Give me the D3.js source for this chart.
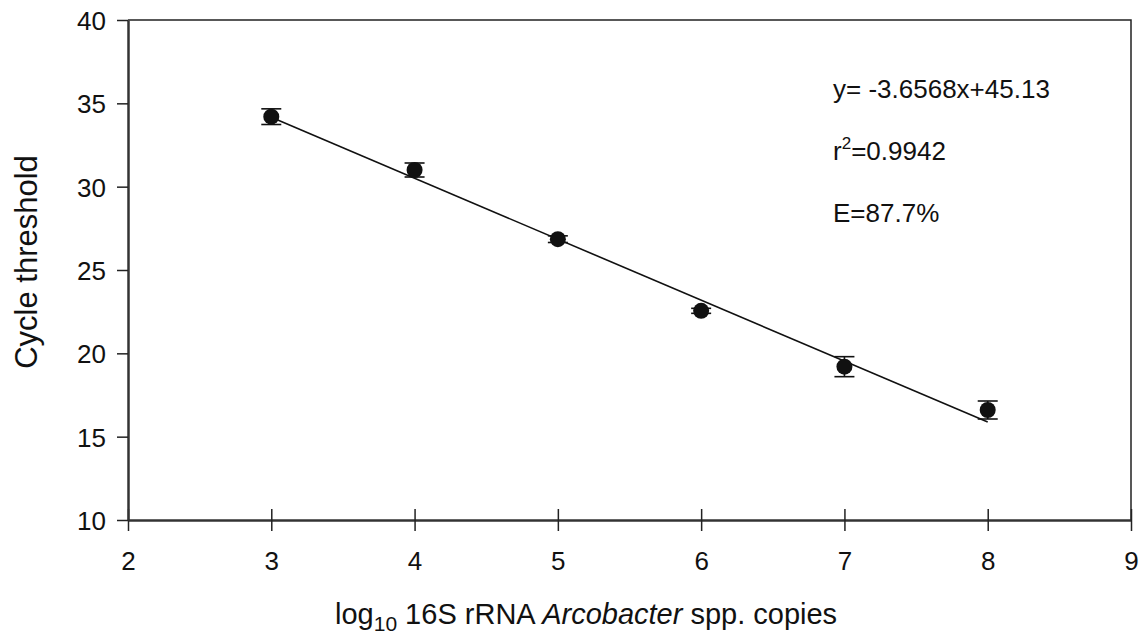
<!DOCTYPE html>
<html lang="en">
<head>
    <meta charset="UTF-8">
    <title>Arcobacter standard curve</title>
    <style>
        body {
            margin: 0;
            padding: 0;
            background-color: #fff;
        }
        svg text {
            font-family: 'Liberation Sans', Arial, sans-serif;
            fill: #111;
        }
    </style>
    <script src="https://d3js.org/d3.v7.min.js"></script>
</head>
<body>
    <div id="chart"></div>

    <script>
        // values
        var logCopies = [3, 4, 5, 6, 7, 8];
        var cycleThreshold = [34.2, 31.0, 26.85, 22.55, 19.2, 16.6];
        var ctError = [0.47, 0.42, 0.2, 0.15, 0.6, 0.54];

        // regression line end points
        var fitX = [3, 8];
        var fitY = [34.16, 15.88];

        var xTicks = [2, 3, 4, 5, 6, 7, 8, 9];
        var yTicks = [10, 15, 20, 25, 30, 35, 40];
        var annotations = ['y= -3.6568x+45.13', 'r2=0.9942', 'E=87.7%'];

        var width = 1141, height = 637;
        var margin = { top: 20, right: 10, bottom: 117, left: 128 };

        var svg = d3.select('#chart')
            .append('svg')
            .attr('width', width)
            .attr('height', height);

        var x = d3.scaleLinear()
            .domain([2, 9])
            .range([margin.left, width - margin.right]);

        var y = d3.scaleLinear()
            .domain([10, 40])
            .range([height - margin.bottom, margin.top]);

        // frame: top and right lines
        svg.append('path')
            .attr('d', 'M' + x(2) + ',' + y(40) + 'H' + x(9) + 'V' + y(10))
            .attr('fill', 'none')
            .attr('stroke', '#222')
            .attr('stroke-width', 1.5);

        // x axis, ticks cross the line
        var xAxis = svg.append('g')
            .attr('transform', 'translate(0,' + y(10) + ')')
            .call(d3.axisBottom(x).tickValues(xTicks).tickFormat(d3.format('d'))
                .tickSize(11).tickSizeOuter(0).tickPadding(39));
        xAxis.select('.domain').attr('stroke', '#333').attr('stroke-width', 2.5);
        xAxis.selectAll('.tick line')
            .attr('y1', -11)
            .attr('stroke', '#222')
            .attr('stroke-width', 1.5);
        xAxis.selectAll('.tick text')
            .attr('font-size', 26)
            .attr('fill', '#111')
            .attr('dy', 0);

        // y axis
        var yAxis = svg.append('g')
            .attr('transform', 'translate(' + x(2) + ',0)')
            .call(d3.axisLeft(y).tickValues(yTicks).tickFormat(d3.format('d'))
                .tickSize(11).tickSizeOuter(0).tickPadding(11));
        yAxis.select('.domain').attr('stroke', '#333').attr('stroke-width', 2.5);
        yAxis.selectAll('.tick line').attr('stroke', '#222').attr('stroke-width', 1.5);
        yAxis.selectAll('.tick text')
            .attr('font-size', 26)
            .attr('fill', '#111')
            .attr('dy', '0.36em');

        // regression line
        svg.append('line')
            .attr('x1', x(fitX[0])).attr('y1', y(fitY[0]))
            .attr('x2', x(fitX[1])).attr('y2', y(fitY[1]))
            .attr('stroke', '#111')
            .attr('stroke-width', 1.6);

        // error bars
        var bars = svg.append('g').attr('stroke', '#111').attr('stroke-width', 1.6);
        logCopies.forEach(function (d, i) {
            var top = y(cycleThreshold[i] + ctError[i]);
            var bot = y(cycleThreshold[i] - ctError[i]);
            bars.append('line').attr('x1', x(d)).attr('x2', x(d)).attr('y1', top).attr('y2', bot);
            bars.append('line').attr('x1', x(d) - 10).attr('x2', x(d) + 10).attr('y1', top).attr('y2', top);
            bars.append('line').attr('x1', x(d) - 10).attr('x2', x(d) + 10).attr('y1', bot).attr('y2', bot);
        });

        // points
        svg.append('g')
            .selectAll('circle')
            .data(logCopies)
            .enter()
            .append('circle')
            .attr('cx', d => x(d))
            .attr('cy', (d, i) => y(cycleThreshold[i]))
            .attr('r', 8)
            .attr('fill', '#111');

        // equation text
        var note = svg.append('g').attr('font-size', 26);
        note.append('text').attr('x', 833).attr('y', 98).text(annotations[0]);
        var r2 = note.append('text').attr('x', 833).attr('y', 160);
        r2.append('tspan').text('r');
        r2.append('tspan').attr('font-size', 17).attr('dy', -11).text('2');
        r2.append('tspan').attr('dy', 11).text(annotations[1].slice(2));
        note.append('text').attr('x', 833).attr('y', 222).text(annotations[2]);

        // axis titles
        svg.append('text')
            .attr('transform', 'translate(37,262) rotate(-90)')
            .attr('text-anchor', 'middle')
            .attr('font-size', 31)
            .text('Cycle threshold');

        var xt = svg.append('text')
            .attr('x', 335)
            .attr('y', 624)
            .attr('font-size', 29);
        xt.append('tspan').text('log');
        xt.append('tspan').attr('font-size', 21).attr('dy', 7).text('10');
        xt.append('tspan').attr('dy', -7).text(' 16S rRNA ');
        xt.append('tspan').attr('font-style', 'italic').text('Arcobacter');
        xt.append('tspan').text(' spp. copies');
    </script>
</body>
</html>
